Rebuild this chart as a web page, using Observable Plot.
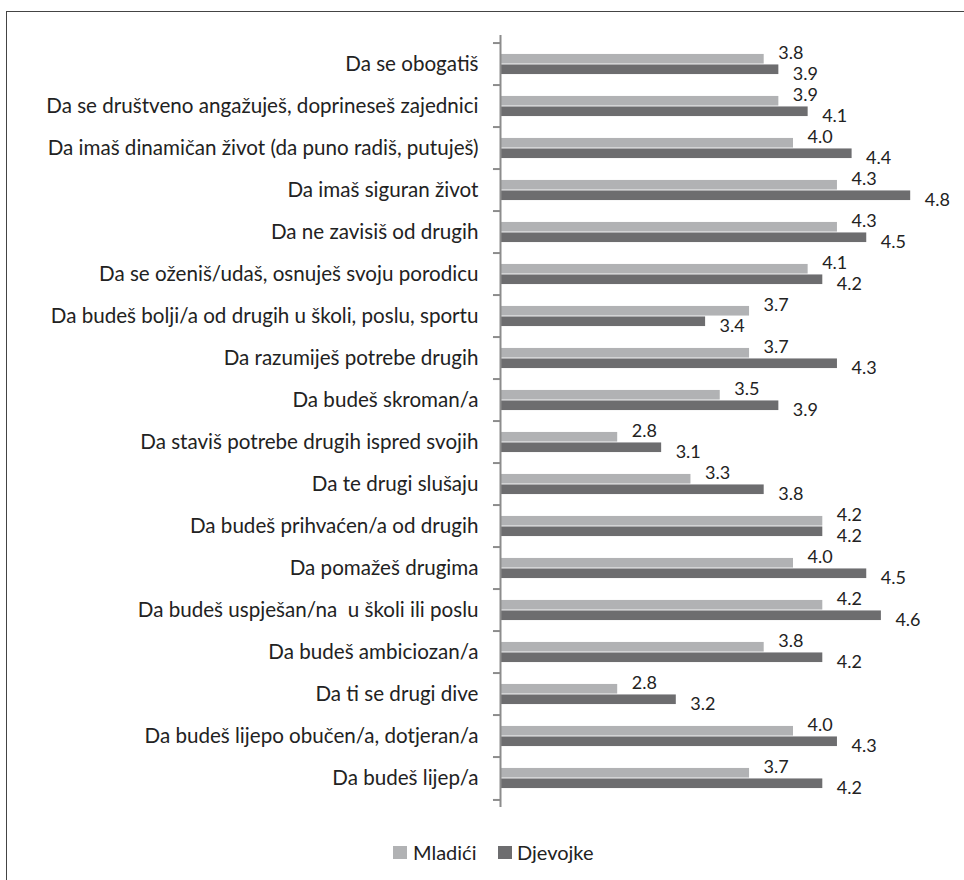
<!DOCTYPE html>
<html><head><meta charset="utf-8">
<script src="https://cdn.jsdelivr.net/npm/d3@7"></script>
<script src="https://cdn.jsdelivr.net/npm/@observablehq/plot@0.6"></script>
<style>
html,body{margin:0;padding:0;background:#fff;overflow:hidden;width:964px;height:880px}
body{font-family:Lato,"Open Sans",sans-serif;color:#222}
#frame{position:absolute;left:6px;top:11px;width:2000px;height:2000px;border-left:1px solid #444;border-top:1px solid #444}
#chart{position:absolute;left:0;top:0}
.lg{position:absolute;top:840px;font-size:20px;line-height:24px;color:#222}
.sw{position:absolute;width:14px;height:13px;top:846px}
</style></head>
<body>
<div id="frame"></div>
<div id="chart"></div>
<div class="sw" style="left:393px;background:#b1b2b4"></div><div class="lg" style="left:413px">Mladići</div>
<div class="sw" style="left:498px;background:#6d6d6f"></div><div class="lg" style="left:517px">Djevojke</div>
<script>
const categories = [
  "Da se obogatiš",
  "Da se društveno angažuješ, doprineseš zajednici",
  "Da imaš dinamičan život (da puno radiš, putuješ)",
  "Da imaš siguran život",
  "Da ne zavisiš od drugih",
  "Da se oženiš/udaš, osnuješ svoju porodicu",
  "Da budeš bolji/a od drugih u školi, poslu, sportu",
  "Da razumiješ potrebe drugih",
  "Da budeš skroman/a",
  "Da staviš potrebe drugih ispred svojih",
  "Da te drugi slušaju",
  "Da budeš prihvaćen/a od drugih",
  "Da pomažeš drugima",
  "Da budeš uspješan/na  u školi ili poslu",
  "Da budeš ambiciozan/a",
  "Da ti se drugi dive",
  "Da budeš lijepo obučen/a, dotjeran/a",
  "Da budeš lijep/a"
];
const mladici  = [3.8,3.9,4.0,4.3,4.3,4.1,3.7,3.7,3.5,2.8,3.3,4.2,4.0,4.2,3.8,2.8,4.0,3.7];
const djevojke = [3.9,4.1,4.4,4.8,4.5,4.2,3.4,4.3,3.9,3.1,3.8,4.2,4.5,4.6,4.2,3.2,4.3,4.2];
const series = ["Mladići","Djevojke"];
const colors = ["#b1b2b4","#6d6d6f"];

const dataM = categories.map((c,i)=>({cat:c, v:mladici[i]}));
const dataD = categories.map((c,i)=>({cat:c, v:djevojke[i]}));

const H = 825, mt = 35, mb = 18;
const bw = (H-mt-mb)/categories.length;
const barH = 10.5;
const half = bw/2;
const xMin = 2;

const plot = Plot.plot({
  width: 964, height: H,
  marginLeft: 500, marginRight: 24.5, marginTop: mt, marginBottom: mb,
  style: {fontFamily: "Lato, 'Open Sans', sans-serif", color: "#222", background: "transparent"},
  x: {domain: [xMin,5], axis: null},
  y: {domain: categories, padding: 0, axis: null},
  marks: [
    Plot.barX(dataM, {y:"cat", x1: xMin, x2:"v", fill: colors[0], insetTop: half-barH, insetBottom: half}),
    Plot.barX(dataD, {y:"cat", x1: xMin, x2:"v", fill: colors[1], insetTop: half, insetBottom: half-barH}),
    Plot.ruleX([xMin], {stroke:"#8c8c8c", strokeWidth: 2}),
    Plot.ruleY(categories, {y: d=>d, x1: xMin-0.048, x2: xMin, stroke:"#8c8c8c", strokeWidth: 2, dy: -half}),
    Plot.ruleY(categories.slice(-1), {y: d=>d, x1: xMin-0.048, x2: xMin, stroke:"#8c8c8c", strokeWidth: 2, dy: half}),
    Plot.axisY({tickSize: 0, tickPadding: 22, fontSize: 20.6, label: null}),
    Plot.text(dataM, {y:"cat", x:"v", text: d=>d.v.toFixed(1), textAnchor:"start", dx: 14, dy: -11, fontSize: 18, fill:"#222"}),
    Plot.text(dataD, {y:"cat", x:"v", text: d=>d.v.toFixed(1), textAnchor:"start", dx: 14, dy: 10, fontSize: 18, fill:"#222"})
  ]
});
document.getElementById("chart").appendChild(plot);
</script>
</body></html>
